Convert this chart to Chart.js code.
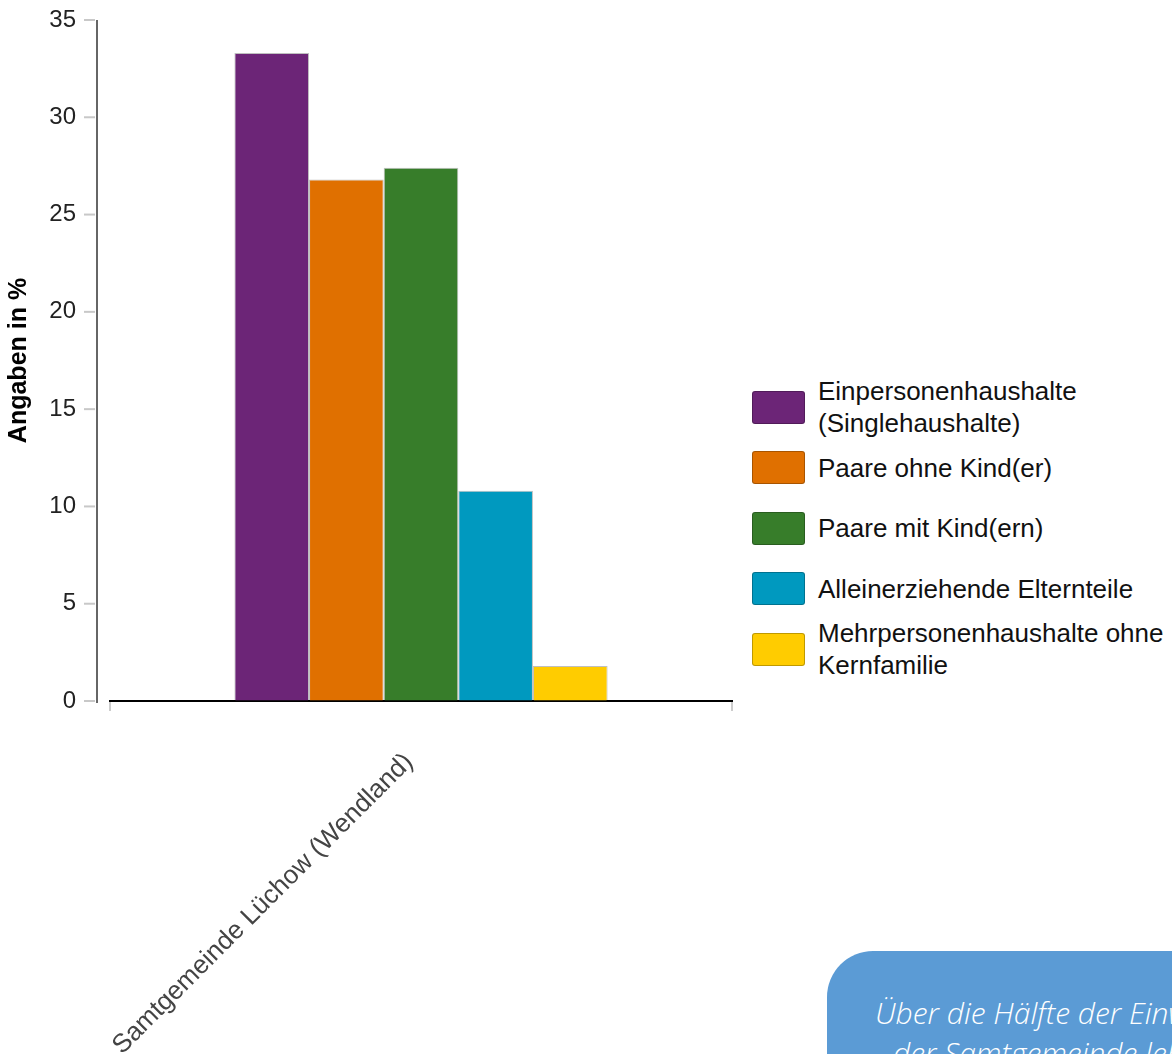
<!DOCTYPE html>
<html>
<head>
<meta charset="utf-8">
<script src="https://cdn.jsdelivr.net/npm/chart.js@4"></script>
<style>
  html, body { margin: 0; padding: 0; background: #fff; overflow: hidden; }
  #wrap { position: relative; width: 1172px; height: 1054px; overflow: hidden; }
  #chartBox { position: absolute; left: 0; top: 0; width: 745px; height: 1054px; }
  #legend { position: absolute; left: 752px; top: 377px; width: 420px;
            font-family: 'Liberation Sans', Arial, sans-serif; font-size: 26px; color: #111; }
  .item { display: flex; align-items: center; height: 60.5px; }
  .swatch { width: 51px; height: 31px; border-radius: 3px; border: 1px solid rgba(0,0,0,0.25);
            flex: none; margin-right: 13px; }
  .txt { white-space: pre-line; line-height: 32px; }
  #note { position: absolute; left: 827px; top: 951px; width: 420px; height: 200px;
          background: #5b9bd5; border-top-left-radius: 46px; color: #fff;
          font-family: 'Open Sans', sans-serif; font-style: italic; font-weight: 300;
          font-size: 30px; line-height: 40px; }
  #note div { white-space: nowrap; }
</style>
</head>
<body>
<div id="wrap">
  <div id="chartBox"><canvas id="householdChart"></canvas></div>
  <div id="legend"></div>
  <div id="note">
    <div style="margin:42px 0 0 48px">Über die Hälfte der Einwohner</div>
    <div style="margin-left:66px">der Samtgemeinde leben</div>
  </div>
</div>
<script>
// data
const categories = ['Samtgemeinde Lüchow (Wendland)'];
const seriesNames = [
    'Einpersonenhaushalte\n(Singlehaushalte)',
    'Paare ohne Kind(er)',
    'Paare mit Kind(ern)',
    'Alleinerziehende Elternteile',
    'Mehrpersonenhaushalte ohne\nKernfamilie'
];
const seriesValues = [33.3, 26.8, 27.4, 10.8, 1.8];
const seriesColors = ['#6c2577', '#e07000', '#377d2a', '#0099bf', '#ffcc00'];
const yTicks = [0, 5, 10, 15, 20, 25, 30, 35];

const FONT = "'Liberation Sans', Arial, sans-serif";

// y axis line sits a bit left of the plot, with grey tick marks
const yAxisLine = {
    id: 'yAxisLine',
    afterDraw(chart) {
        const ctx = chart.ctx;
        const y = chart.scales.y;
        const x = chart.chartArea.left - 13;
        ctx.save();
        ctx.strokeStyle = '#c8c8c8';
        ctx.lineWidth = 2;
        y.ticks.forEach((t, i) => {
            const py = y.getPixelForTick(i);
            ctx.beginPath();
            ctx.moveTo(x - 13, py);
            ctx.lineTo(x - 2, py);
            ctx.stroke();
        });
        ctx.strokeStyle = '#333';
        ctx.lineWidth = 1.5;
        ctx.beginPath();
        ctx.moveTo(x, y.top);
        ctx.lineTo(x, y.bottom + 2);
        ctx.stroke();
        ctx.restore();
    }
};

function createHouseholdChart() {
    const ctx = document.getElementById('householdChart').getContext('2d');
    new Chart(ctx, {
        type: 'bar',
        data: {
            labels: categories,
            datasets: seriesNames.map((name, i) => ({
                label: name,
                data: [seriesValues[i]],
                backgroundColor: seriesColors[i],
                borderColor: 'rgba(0,0,0,0.25)',
                borderWidth: 1,
                categoryPercentage: 0.6,
                barPercentage: 1
            }))
        },
        options: {
            responsive: true,
            maintainAspectRatio: false,
            animation: false,
            layout: { padding: { top: 20, right: 13, left: 0, bottom: 0 } },
            plugins: {
                legend: { display: false },
                tooltip: { enabled: false }
            },
            scales: {
                x: {
                    afterFit(scale) { scale.height = 353; },
                    border: { display: true, color: '#000', width: 2 },
                    grid: { offset: true, drawOnChartArea: false, tickLength: 10, color: '#cccccc', lineWidth: 2 },
                    ticks: {
                        minRotation: 45,
                        maxRotation: 45,
                        padding: 36,
                        labelOffset: -12,
                        color: '#444',
                        font: { family: FONT, size: 26 }
                    }
                },
                y: {
                    min: 0,
                    max: 35,
                    afterFit(scale) { scale.width = 110; },
                    afterBuildTicks(scale) { scale.ticks = yTicks.map(v => ({ value: v })); },
                    border: { display: false },
                    // invisible tick marks only to push the labels left
                    grid: { drawOnChartArea: false, drawTicks: true, tickLength: 30, color: 'rgba(0,0,0,0)' },
                    ticks: {
                        padding: 4,
                        color: '#222',
                        font: { family: FONT, size: 24 }
                    },
                    title: {
                        display: true,
                        text: 'Angaben in %',
                        color: '#000',
                        font: { family: FONT, size: 25, weight: 'bold' },
                        padding: { top: 4, bottom: 4 }
                    }
                }
            }
        },
        plugins: [yAxisLine]
    });
}

function createLegend() {
    const box = document.getElementById('legend');
    seriesNames.forEach((name, i) => {
        const item = document.createElement('div');
        item.className = 'item';
        const sw = document.createElement('div');
        sw.className = 'swatch';
        sw.style.background = seriesColors[i];
        const txt = document.createElement('div');
        txt.className = 'txt';
        txt.textContent = name;
        item.appendChild(sw);
        item.appendChild(txt);
        box.appendChild(item);
    });
}

createHouseholdChart();
createLegend();
</script>
</body>
</html>
